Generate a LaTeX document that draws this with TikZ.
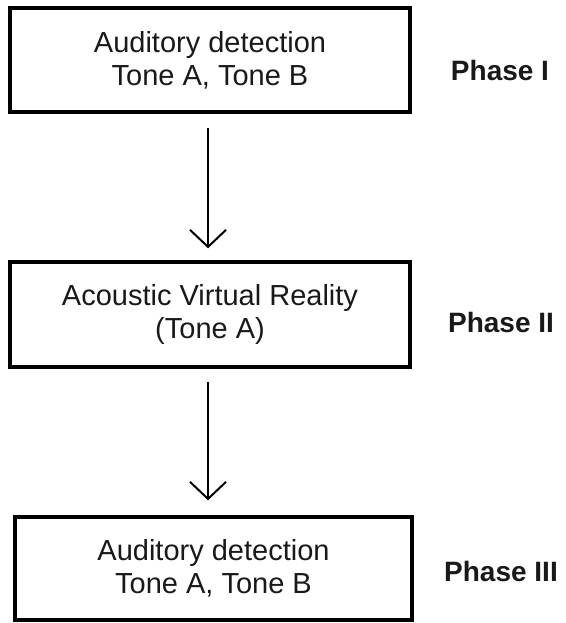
\documentclass[tikz,border=0pt]{standalone}
\usepackage{fontspec}
\setmainfont{Liberation Sans}
\usetikzlibrary{arrows.meta}
\tikzset{
  phasebox/.style={draw=black, line width=3.5pt, minimum width=400pt, minimum height=104pt, align=center, inner sep=0pt, text=black!90, font=\fontsize{29}{33}\selectfont},
  phaselabel/.style={font=\bfseries\fontsize{28}{33}\selectfont, text=black!90, inner sep=0pt},
  flow/.style={line width=2pt, -{Straight Barb[length=17pt, width=36pt, line width=2pt]}}
}
\begin{document}
\begin{tikzpicture}[x=1pt,y=-1pt]
\useasboundingbox (0,0) rectangle (565,623);
\node[phasebox] (b1) at (210,60) {Auditory detection\\Tone A, Tone B};
\node[phasebox, minimum height=105pt] (b2) at (210,314.5) {Acoustic Virtual Reality\\(Tone A)};
\node[phasebox, minimum width=397pt, minimum height=103pt] (b3) at (213.5,568.5) {Auditory detection\\Tone A, Tone B};
\node[phaselabel] (p1) at (500,70) {Phase I};
\node[phaselabel] (p2) at (501,322) {Phase II};
\node[phaselabel] (p3) at (501,571) {Phase III};
\draw[flow] ([xshift=-2pt,yshift=-14pt]b1.south) -- ([xshift=-2pt,yshift=12pt]b2.north);
\draw[flow] ([xshift=-2pt,yshift=-13pt]b2.south) -- ([xshift=-5.5pt,yshift=15pt]b3.north);
\end{tikzpicture}
\end{document}
